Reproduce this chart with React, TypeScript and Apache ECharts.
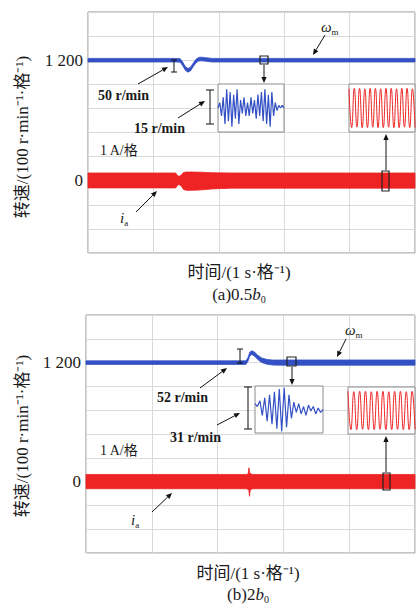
import React, { useEffect, useRef } from "react";
import * as echarts from "echarts";

// ---------- Panel (a) 0.5 b0 ----------
const timeSpeedA = [0, 1.36, 1.41, 1.45, 1.49, 1.53, 1.57, 1.61, 1.65, 1.69, 1.74, 1.8, 1.9, 2.2, 5];
const speedA = [1200, 1200, 1199, 1184, 1165, 1158, 1164, 1181, 1196, 1204, 1205, 1203, 1200, 1200, 1200];
const noiseA = [15, 15, 15, 15, 15, 15, 15, 15, 15, 15, 15, 15, 15, 15, 15];

const timeCurrentA = [0, 1.34, 1.38, 1.42, 1.46, 1.5, 1.6, 1.75, 1.9, 2.2, 5];
const currentUpperA = [0.32, 0.32, 0.18, 0.22, 0.34, 0.36, 0.36, 0.35, 0.33, 0.32, 0.32];
const currentLowerA = [-0.3, -0.3, -0.16, -0.2, -0.36, -0.4, -0.4, -0.38, -0.34, -0.31, -0.31];

const blueInsetA = [0, 2, -3, 4, -6, 7, -5, 6, -7, 5, -4, 7, -6, 3, -2, 4, -3, 2, -3, 4, -2, 3, -4, 5, -3, 6, -5, 7, -6, 5, -7, 6, -3, 2, -1, 1, 0, 1, 0];
const redInsetA = [0.88, -0.9, 0.9, -0.88, 0.9, -0.9, 0.88, -0.9, 0.9, -0.88, 0.9, -0.9, 0.88, -0.9, 0.9, -0.88, 0.9, -0.9, 0.88, -0.9, 0.9, -0.88, 0.9, -0.9, 0.88, -0.9];

// ---------- Panel (b) 2 b0 ----------
const timeSpeedB = [0, 2.43, 2.46, 2.49, 2.52, 2.56, 2.61, 2.67, 2.75, 2.85, 3.0, 5];
const speedB = [1200, 1200, 1212, 1236, 1242, 1236, 1222, 1210, 1203, 1200, 1200, 1200];
const noiseB = [15, 15, 15, 16, 16, 17, 18, 19, 20, 21, 22, 22];

const timeCurrentB = [0, 2.44, 2.465, 2.475, 2.485, 2.495, 2.51, 2.54, 5];
const currentUpperB = [0.3, 0.3, 0.33, 0.58, 0.4, 0.34, 0.32, 0.3, 0.3];
const currentLowerB = [-0.3, -0.3, -0.33, -0.36, -0.62, -0.38, -0.32, -0.3, -0.3];

const blueInsetB = [4, 2, 6, -4, 8, -8, 10, -10, 12, -13, 14, -15, 15, -12, 10, -6, 5, -2, 4, -3, 2, -4, 3, -1, 2, -3, 1, -2, 0];
const redInsetB = [0.9, -0.9, 0.88, -0.9, 0.9, -0.88, 0.9, -0.9, 0.88, -0.9, 0.9, -0.88, 0.9, -0.9, 0.88, -0.9, 0.9, -0.88, 0.9, -0.9, 0.88, -0.9, 0.9, -0.88];

const speedTickLabels: Record<number, string> = { 1200: "1 200", 0: "0" };

const BLUE = "#3350c4";
const RED = "#ee2424";
const GRIDC = "#d9d9d9";
const BORDER = "#8c8c8c";
const SERIF = "'Liberation Serif', 'Times New Roman', 'Noto Sans CJK SC', serif";

function arrow(x1: number, y1: number, x2: number, y2: number): any {
  const a = Math.atan2(y2 - y1, x2 - x1);
  const L = 6, W = 2.6;
  const bx = x2 - L * Math.cos(a), by = y2 - L * Math.sin(a);
  const px = -Math.sin(a) * W, py = Math.cos(a) * W;
  return {
    type: "group",
    z: 100,
    children: [
      { type: "line", shape: { x1, y1, x2: bx, y2: by }, style: { stroke: "#111", lineWidth: 1 }, z: 100 },
      { type: "polygon", shape: { points: [[x2, y2], [bx + px, by + py], [bx - px, by - py]] }, style: { fill: "#111" }, z: 100 },
    ],
  };
}

function ibar(x: number, y1: number, y2: number, cap: number): any {
  return {
    type: "group",
    z: 100,
    children: [
      { type: "line", shape: { x1: x, y1, x2: x, y2 }, style: { stroke: "#111", lineWidth: 1 }, z: 100 },
      { type: "line", shape: { x1: x - cap, y1, x2: x + cap, y2: y1 }, style: { stroke: "#111", lineWidth: 1 }, z: 100 },
      { type: "line", shape: { x1: x - cap, y1: y2, x2: x + cap, y2 }, style: { stroke: "#111", lineWidth: 1 }, z: 100 },
    ],
  };
}

function txt(x: number, y: number, text: string, size: number, opts: any = {}): any {
  return {
    type: "text",
    x,
    y,
    z: 100,
    rotation: opts.rotation || 0,
    style: {
      text,
      fill: "#1a1a1a",
      font: `${opts.bold ? "bold " : ""}${size}px ${SERIF}`,
      align: opts.align || "left",
      verticalAlign: "middle",
      rich: opts.rich,
    },
  };
}

const subRich = {
  n: { fontSize: 17, fontFamily: SERIF, lineHeight: 20, fill: "#1a1a1a" },
  i: { fontSize: 17, fontFamily: SERIF, fontStyle: "italic", lineHeight: 20, fill: "#1a1a1a" },
  s: { fontSize: 10, fontFamily: SERIF, verticalAlign: "bottom", lineHeight: 10, fill: "#1a1a1a" },
};
const greekRich = {
  i: { fontSize: 15, fontFamily: SERIF, fontStyle: "italic", lineHeight: 18, fill: "#1a1a1a" },
  s: { fontSize: 9, fontFamily: SERIF, verticalAlign: "bottom", lineHeight: 8, fill: "#1a1a1a" },
};

function rect(x: number, y: number, w: number, h: number): any {
  return { type: "rect", z: 100, shape: { x, y, width: w, height: h }, style: { fill: "none", stroke: "#222", lineWidth: 1.2 } };
}

function mainAxes(gi: number) {
  const xAxis = {
    type: "value", gridIndex: gi, min: 0, max: 5, interval: 1,
    axisLine: { show: false }, axisTick: { show: false }, axisLabel: { show: false },
    splitLine: { show: true, lineStyle: { color: GRIDC, width: 1 } },
  };
  const yAxes = [
    {
      type: "value", gridIndex: gi, min: -720, max: 1680, interval: 240,
      axisLine: { show: false }, axisTick: { show: false },
      axisLabel: {
        show: true, margin: 5, color: "#1a1a1a", fontSize: 17, fontFamily: SERIF,
        formatter: (v: number) => speedTickLabels[v] ?? "",
      },
      splitLine: { show: true, lineStyle: { color: GRIDC, width: 1 } },
    },
    { type: "value", gridIndex: gi, min: 400, max: 1400, show: false, splitLine: { show: false } },
    { type: "value", gridIndex: gi, min: -3, max: 7, show: false, splitLine: { show: false } },
  ];
  return { xAxis, yAxes };
}

function insetAxes(gi: number, n: number, lim: number) {
  return {
    xAxis: { type: "value", gridIndex: gi, min: 0, max: n - 1, show: false, splitLine: { show: false } },
    yAxis: { type: "value", gridIndex: gi, min: -lim, max: lim, show: false, splitLine: { show: false } },
  };
}

// filled envelope between lower[] and upper[] drawn through the axes' scales
function band(xi: number, yi: number, t: number[], lower: number[], upper: number[], color: string): any {
  return {
    type: "custom",
    coordinateSystem: "cartesian2d",
    xAxisIndex: xi,
    yAxisIndex: yi,
    z: 3,
    data: [[t[0], lower[0]]],
    renderItem: (_p: any, api: any) => {
      const pts: number[][] = [];
      for (let i = 0; i < t.length; i++) pts.push(api.coord([t[i], upper[i]]));
      for (let i = t.length - 1; i >= 0; i--) pts.push(api.coord([t[i], lower[i]]));
      return {
        type: "polygon",
        shape: { points: pts },
        style: { fill: color, stroke: color, lineWidth: 0.8 },
      };
    },
  };
}

export default function App() {
  const ref = useRef<HTMLDivElement>(null);
  useEffect(() => {
    if (!ref.current) return;
    const chart = echarts.init(ref.current, undefined, { renderer: "svg" });

    const A = mainAxes(0);
    const B = mainAxes(3);
    const ia1 = insetAxes(1, blueInsetA.length, 9);
    const ia2 = insetAxes(2, redInsetA.length, 1.1);
    const ib1 = insetAxes(4, blueInsetB.length, 16);
    const ib2 = insetAxes(5, redInsetB.length, 1.1);

    const insetGrid = (left: number, top: number, width: number, height: number) => ({
      left, top, width, height, show: true, borderColor: BORDER, borderWidth: 1, backgroundColor: "#fff", z: 5,
    });

    const speedLoA = speedA.map((v, i) => v - noiseA[i] / 2);
    const speedHiA = speedA.map((v, i) => v + noiseA[i] / 2);
    const speedLoB = speedB.map((v, i) => v - noiseB[i] / 2);
    const speedHiB = speedB.map((v, i) => v + noiseB[i] / 2);

    const graphics: any[] = [
      // panel (a)
      txt(22, 137, "转速/(100 r·min⁻¹·格⁻¹)", 17, { align: "center", rotation: Math.PI / 2 }),
      txt(239, 272, "时间/(1 s·格⁻¹)", 17, { align: "center" }),
      txt(239, 294, "{n|(a)0.5}{i|b}{s|0}", 17, { align: "center", rich: subRich }),
      txt(98, 95, "50 r/min", 14, { bold: true }),
      txt(134, 128, "15 r/min", 14, { bold: true }),
      txt(100, 150, "1 A/格", 14),
      txt(321, 27, "{i|ω}{s|m}", 15, { rich: greekRich }),
      txt(120, 218, "{i|i}{s|a}", 15, { rich: greekRich }),
      arrow(325, 35, 313, 55),
      arrow(138, 84, 168, 67),
      arrow(178, 118, 205, 101),
      arrow(136, 212, 157, 191),
      arrow(264, 65, 264, 83),
      arrow(386, 170, 386, 134),
      ibar(174, 60, 72, 3),
      ibar(210, 90, 124, 4),
      rect(260, 56, 8, 8),
      rect(382, 171, 7, 20),
      // panel (b)
      txt(22, 436, "转速/(100 r·min⁻¹·格⁻¹)", 17, { align: "center", rotation: Math.PI / 2 }),
      txt(248, 573, "时间/(1 s·格⁻¹)", 17, { align: "center" }),
      txt(248, 594, "{n|(b)2}{i|b}{s|0}", 17, { align: "center", rich: subRich }),
      txt(157, 397, "52 r/min", 14, { bold: true }),
      txt(170, 437, "31 r/min", 14, { bold: true }),
      txt(100, 450, "1 A/格", 14),
      txt(345, 330, "{i|ω}{s|m}", 15, { rich: greekRich }),
      txt(131, 520, "{i|i}{s|a}", 15, { rich: greekRich }),
      arrow(346, 339, 337, 357),
      arrow(200, 388, 227, 368),
      arrow(217, 425, 240, 413),
      arrow(152, 512, 172, 493),
      arrow(292, 367, 292, 385),
      arrow(386, 472, 386, 436),
      ibar(240, 349, 363, 3),
      ibar(248, 387, 429, 4),
      rect(287, 357, 9, 9),
      rect(383, 473, 7, 17),
    ];

    const option: any = {
      animation: false,
      backgroundColor: "#fff",
      grid: [
        { left: 88, top: 12, width: 327, height: 241, show: true, borderColor: BORDER, borderWidth: 1, backgroundColor: "#fff" },
        insetGrid(218, 84, 66, 48),
        insetGrid(349, 84, 66, 48),
        { left: 86, top: 315, width: 329, height: 238, show: true, borderColor: BORDER, borderWidth: 1, backgroundColor: "#fff" },
        insetGrid(255, 386, 68, 47),
        insetGrid(348, 387, 67, 47),
      ],
      xAxis: [A.xAxis, ia1.xAxis, ia2.xAxis, B.xAxis, ib1.xAxis, ib2.xAxis],
      yAxis: [...A.yAxes, ia1.yAxis, ia2.yAxis, ...B.yAxes, ib1.yAxis, ib2.yAxis],
      series: [
        band(0, 1, timeSpeedA, speedLoA, speedHiA, BLUE),
        band(0, 2, timeCurrentA, currentLowerA, currentUpperA, RED),
        {
          type: "line", xAxisIndex: 1, yAxisIndex: 3, symbol: "none", z: 8,
          lineStyle: { color: BLUE, width: 1.2 }, data: blueInsetA.map((v, i) => [i, v]),
        },
        {
          type: "line", xAxisIndex: 2, yAxisIndex: 4, symbol: "none", z: 8, smooth: 0.5,
          lineStyle: { color: RED, width: 1 }, data: redInsetA.map((v, i) => [i, v]),
        },
        band(3, 6, timeSpeedB, speedLoB, speedHiB, BLUE),
        band(3, 7, timeCurrentB, currentLowerB, currentUpperB, RED),
        {
          type: "line", xAxisIndex: 4, yAxisIndex: 8, symbol: "none", z: 8,
          lineStyle: { color: BLUE, width: 1.2 }, data: blueInsetB.map((v, i) => [i, v]),
        },
        {
          type: "line", xAxisIndex: 5, yAxisIndex: 9, symbol: "none", z: 8, smooth: 0.5,
          lineStyle: { color: RED, width: 1 }, data: redInsetB.map((v, i) => [i, v]),
        },
      ],
      graphic: graphics,
    };
    chart.setOption(option);
    return () => chart.dispose();
  }, []);

  return (
    <div
      ref={ref}
      style={{ position: "fixed", left: 0, top: 0, width: 417, height: 609, background: "#fff" }}
    />
  );
}
